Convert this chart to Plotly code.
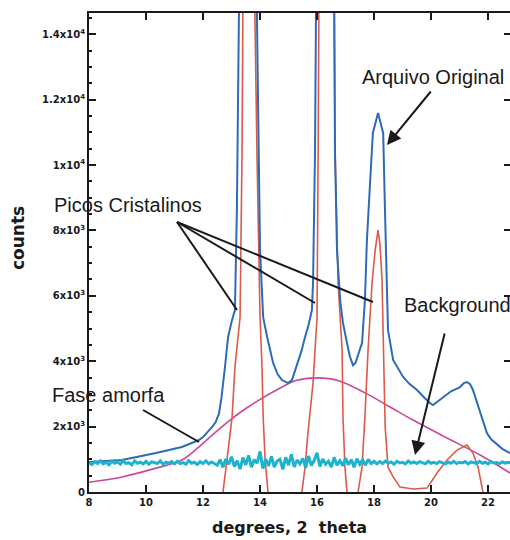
import plotly.graph_objects as go

# ---------------- data ----------------
# Arquivo Original (blue)
orig_x = [8.00, 9.16, 10.35, 11.26, 11.86, 12.00, 12.32, 12.45, 12.56, 12.65, 12.77, 12.88, 13.00,
          13.12, 13.19, 13.30, 13.62, 13.89, 14.00, 14.11, 14.25, 14.46, 14.62, 14.77, 14.98,
          15.12, 15.33, 15.45, 15.58, 15.70, 15.82, 15.86, 15.93, 16.33, 16.63, 16.70, 16.81,
          16.91, 17.05, 17.15, 17.26, 17.35, 17.44, 17.58, 17.68, 17.75, 17.86, 17.96,
          18.14, 18.32, 18.39, 18.46, 18.49, 18.67, 18.85, 19.02, 19.25, 19.51, 19.75,
          19.96, 20.07, 20.20, 20.42, 20.70, 21.02, 21.15, 21.26, 21.37, 21.47, 21.60, 21.72,
          21.85, 21.96, 22.10, 22.25, 22.50, 22.77]
orig_y = [917, 979, 1193, 1376, 1590, 1680, 1988, 2150, 2400, 2900, 3823, 4740, 5200,
          5566, 8715, 14648, 45000, 14650, 7400, 5350, 4740, 3945, 3600, 3425, 3333,
          3425, 3945, 4300, 4740, 5100, 5566, 6390, 10460, 60000, 10460, 7400, 5870,
          5170, 4560, 4150, 3880, 3950, 4190, 4560, 5870, 7700, 9450, 10980,
          11590, 10980, 8410, 6390, 4950, 4040, 3750, 3520, 3300, 3120, 2900,
          2720, 2660, 2750, 2905, 3080, 3210, 3330, 3360, 3300, 3120, 2750, 2415,
          2050, 1800, 1620, 1500, 1320, 1190]

# Picos Cristalinos (red)
peaks_x = [12.40, 12.70, 12.84, 13.02, 13.12, 13.30, 13.37, 13.40, 13.50, 13.61, 13.72, 13.82,
           13.89, 14.00, 14.07, 14.11, 14.18, 14.28, 14.45, 15.30, 15.47, 15.58, 15.68, 15.86,
           16.00, 16.04, 16.33, 16.63, 16.74, 16.88, 16.91, 16.98, 17.05, 17.25, 17.44, 17.58,
           17.68, 17.79, 17.93, 18.04, 18.14, 18.21, 18.28, 18.32, 18.39, 18.49, 18.67, 18.91,
           19.37, 19.86, 20.21, 20.56, 20.91, 21.26, 21.47, 21.65, 21.82, 22.00, 22.80]
peaks_y = [-600, 0, 980, 2290, 3820, 5350, 10460, 14650, 25000, 45000, 25000, 14650,
           10460, 5350, 3820, 2290, 980, 0, -600, -600, 0, 765, 1800, 3330,
           5350, 10460, 60000, 10460, 6390, 4340, 2290, 765, 0, -400, 0, 765,
           2290, 4340, 6390, 7400, 8010, 7550, 6480, 4340, 1990, 765, 460, 150,
           90, 120, 580, 980, 1280, 1440, 1190, 765, 0, -500, -500]

# Fase amorfa (magenta)
amorph_x = [8.00, 9.16, 10.35, 11.26, 11.86, 12.32, 12.95, 13.58, 14.77, 15.23, 16.00, 16.81,
            17.75, 18.56, 19.37, 20.56, 21.72, 22.77]
amorph_y = [300, 460, 730, 980, 1380, 1740, 2200, 2600, 3210, 3400, 3490, 3390,
            3000, 2600, 2200, 1650, 1130, 580]

# Background (cyan), sampled every 0.1 degree from 8.0
bg_start = 8.0
bg_step = 0.1
bg_counts = [900, 840, 930, 870, 950, 860, 910, 830, 940, 880, 920, 850, 960, 870, 900, 830,
             950, 880, 910, 860, 940, 850, 920, 890, 870, 950, 840, 910, 880, 930, 860, 940,
             870, 900, 850, 960, 880, 910, 840, 930, 870, 950, 860, 920, 880,
             820, 990, 760, 1010, 850, 1080, 780, 960, 700, 1050, 830, 1120, 760, 990, 880,
             1240, 720, 1010, 800, 1090, 760, 950, 1000, 690, 1060, 820, 1150, 770, 980, 860,
             1030, 740, 1100, 810, 960, 1200, 780, 1010, 850, 940, 760, 1060, 820,
             960, 800, 1040, 830, 990, 760, 1020, 850, 980, 820, 1000, 870, 940,
             860, 930, 870, 950, 880, 920, 850, 940, 890, 910, 860, 950, 880, 920, 870, 930,
             900, 860, 940, 880, 910, 870, 930, 890, 860, 920, 880, 940, 870, 910, 890, 930,
             860, 920, 900, 870, 940, 880, 910, 860, 930, 890, 900, 870, 920, 880, 910, 890]
bg_x = [round(bg_start + i * bg_step, 2) for i in range(len(bg_counts))]

x_tick_vals = [8, 10, 12, 14, 16, 18, 20, 22]
x_tick_text = ["8", "10", "12", "14", "16", "18", "20", "22"]
y_tick_vals = [0, 2000, 4000, 6000, 8000, 10000, 12000, 14000]
y_tick_text = ["0", "2x10<sup>3</sup>", "4x10<sup>3</sup>", "6x10<sup>3</sup>",
               "8x10<sup>3</sup>", "1x10<sup>4</sup>", "1.2x10<sup>4</sup>", "1.4x10<sup>4</sup>"]

X_RANGE = [8, 22.77]
Y_RANGE = [0, 14650]

# ---------------- layout geometry ----------------
W, H = 510, 540
ML, MR, MT, MB = 89, 0, 13, 48
PW, PH = W - ML - MR, H - MT - MB


def P(px, py):
    return (px - ML) / PW, (H - MB - py) / PH


BLUE = "#2b6cb8"
RED = "#dc5a4c"
PINK = "#c8489c"
CYAN = "#1db3cc"
INK = "#1a1a1a"

fig = go.Figure()
fig.add_trace(go.Scatter(x=amorph_x, y=amorph_y, mode="lines", line=dict(color=PINK, width=1.6),
                         line_shape="spline", hoverinfo="skip", showlegend=False))
fig.add_trace(go.Scatter(x=peaks_x, y=peaks_y, mode="lines", line=dict(color=RED, width=1.6),
                         hoverinfo="skip", showlegend=False))
fig.add_trace(go.Scatter(x=orig_x, y=orig_y, mode="lines", line=dict(color=BLUE, width=2),
                         hoverinfo="skip", showlegend=False))
fig.add_trace(go.Scatter(x=bg_x, y=bg_counts, mode="lines", line=dict(color=CYAN, width=3),
                         hoverinfo="skip", showlegend=False))
# helper trace so the right-hand tick axis is rendered
fig.add_trace(go.Scatter(x=[X_RANGE[0]], y=[0], yaxis="y2", mode="markers",
                         marker=dict(opacity=0), hoverinfo="skip", showlegend=False))

tickfont = dict(family="DejaVu Sans", size=10, color=INK, weight="bold")

fig.update_layout(
    width=W, height=H,
    margin=dict(l=ML, r=MR, t=MT, b=MB, pad=0),
    paper_bgcolor="white", plot_bgcolor="white",
    xaxis=dict(range=X_RANGE, showgrid=False, zeroline=False, showline=True, linecolor=INK,
               linewidth=2, mirror="ticks", ticks="inside", ticklen=7, tickwidth=2, tickcolor=INK,
               tickvals=x_tick_vals, ticktext=x_tick_text, tickfont=tickfont),
    yaxis=dict(range=Y_RANGE, showgrid=False, zeroline=False, showline=True, linecolor=INK,
               linewidth=2, ticks="inside", ticklen=7, tickwidth=2, tickcolor=INK,
               tickvals=y_tick_vals, ticktext=y_tick_text, tickfont=tickfont,
               minor=dict(ticks="inside", ticklen=3, tickcolor=INK, dtick=500, showgrid=False)),
    yaxis2=dict(range=Y_RANGE, overlaying="y", side="right", showgrid=False, zeroline=False,
                showline=False, ticks="inside", ticklen=6, tickwidth=2, tickcolor=INK,
                tickvals=y_tick_vals, showticklabels=False),
)

labfont = dict(family="Liberation Sans, Arial, sans-serif", size=20, color=INK)
ann = []


def text(px, py, s, anchor="left"):
    x, y = P(px, py)
    ann.append(dict(x=x, y=y, xref="paper", yref="paper", text=s, showarrow=False,
                    xanchor=anchor, yanchor="middle", font=labfont))


def arrow(tail, tip):
    x, y = P(*tip)
    ann.append(dict(x=x, y=y, xref="paper", yref="paper", text="", showarrow=True,
                    ax=tail[0] - tip[0], ay=tail[1] - tip[1], arrowhead=2, arrowsize=1.4,
                    arrowwidth=2, arrowcolor=INK))


text(360, 77, "Arquivo Original")
arrow((432, 90), (387, 145))
text(52, 205, "Picos Cristalinos")
text(402, 305, "Background")
arrow((445, 332), (415, 455))
text(50, 395, "Fase amorfa")

tx, ty = P(289, 527)
ann.append(dict(x=tx, y=ty, xref="paper", yref="paper", text="degrees, 2  theta", showarrow=False,
                xanchor="center", yanchor="middle",
                font=dict(family="DejaVu Sans", size=16, color=INK, weight="bold")))
cx, cy = P(18, 238)
ann.append(dict(x=cx, y=cy, xref="paper", yref="paper", text="counts", showarrow=False,
                textangle=-90, xanchor="center", yanchor="middle",
                font=dict(family="DejaVu Sans", size=17, color=INK, weight="bold")))

shapes = []
for a, b in [((177, 222), (237, 310)), ((177, 222), (315, 303)), ((177, 222), (373, 302)),
             ((143, 410), (199, 442))]:
    x0, y0 = P(*a)
    x1, y1 = P(*b)
    shapes.append(dict(type="line", xref="paper", yref="paper", x0=x0, y0=y0, x1=x1, y1=y1,
                       line=dict(color=INK, width=2)))

fig.update_layout(annotations=ann, shapes=shapes)
fig.write_html("out.html", config={"displayModeBar": False},
               post_script="document.body.style.margin='0';document.body.style.overflow='hidden';")
